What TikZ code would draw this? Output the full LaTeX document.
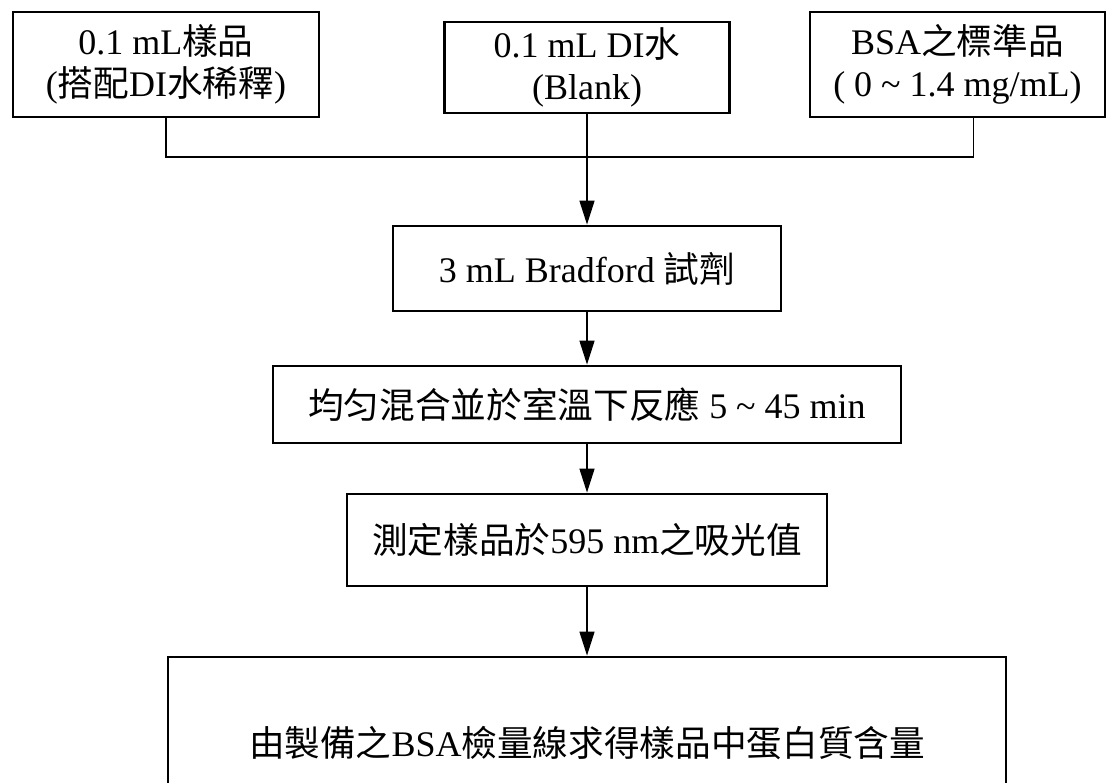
\documentclass[tikz,border=0pt]{standalone}
\usepackage{fontspec}
\setmainfont{Liberation Serif}
\newfontfamily\cjk[Scale=0.99]{Noto Sans CJK TC}
\usetikzlibrary{arrows.meta}
\newcommand\zh[1]{{\cjk #1}}
\begin{document}
\begin{tikzpicture}[x=1pt,y=-1pt,
  box/.style={draw,line width=2.8pt,rectangle,align=center,inner sep=0pt,font=\fontsize{36}{42}\selectfont},
  conn/.style={line width=1.4pt},
  arr/.style={conn,-{Triangle[length=24pt,width=15pt]}}]
\path[use as bounding box, fill=white] (0,0) rectangle (1112,783);
\clip (0,0) rectangle (1112,783);
\node[box,minimum width=306pt,minimum height=105pt] (b1) at (166,64.5) {0.1 mL\zh{樣品}\\(\zh{搭配}DI\zh{水稀釋})};
\node[box,minimum width=285pt,minimum height=91pt] (b2) at (587,67.5) {0.1 mL DI\zh{水}\\(Blank)};
\node[box,minimum width=295pt,minimum height=105pt] (b3) at (957.5,64.5) {BSA\zh{之標準品}\\( 0 \textasciitilde{} 1.4 mg/mL)};
\node[box,minimum width=388pt,minimum height=85pt] (b4) at (587,268.5) {3 mL Bradford \zh{試劑}};
\node[box,minimum width=628pt,minimum height=77pt] (b5) at (587,404.5) {\zh{均匀混合並於室溫下反應} 5 \textasciitilde{} 45 min};
\node[box,minimum width=480pt,minimum height=92pt] (b6) at (587,540) {\zh{測定樣品於}595 nm\zh{之吸光值}};
\node[box,minimum width=838pt,minimum height=172pt] (b7) at (587,743) {\zh{由製備之}BSA\zh{檢量線求得樣品中蛋白質含量}};
\coordinate (j) at (0,157);
\coordinate (s3) at ([xshift=16pt]b3.south);
\draw[conn] (b1.south) |- (s3 |- j) -- (s3);
\draw[arr] (b2.south) -- (b4.north);
\draw[arr] (b4.south) -- (b5.north);
\draw[arr] (b5.south) -- (b6.north);
\draw[arr] (b6.south) -- (b7.north);
\end{tikzpicture}
\end{document}
